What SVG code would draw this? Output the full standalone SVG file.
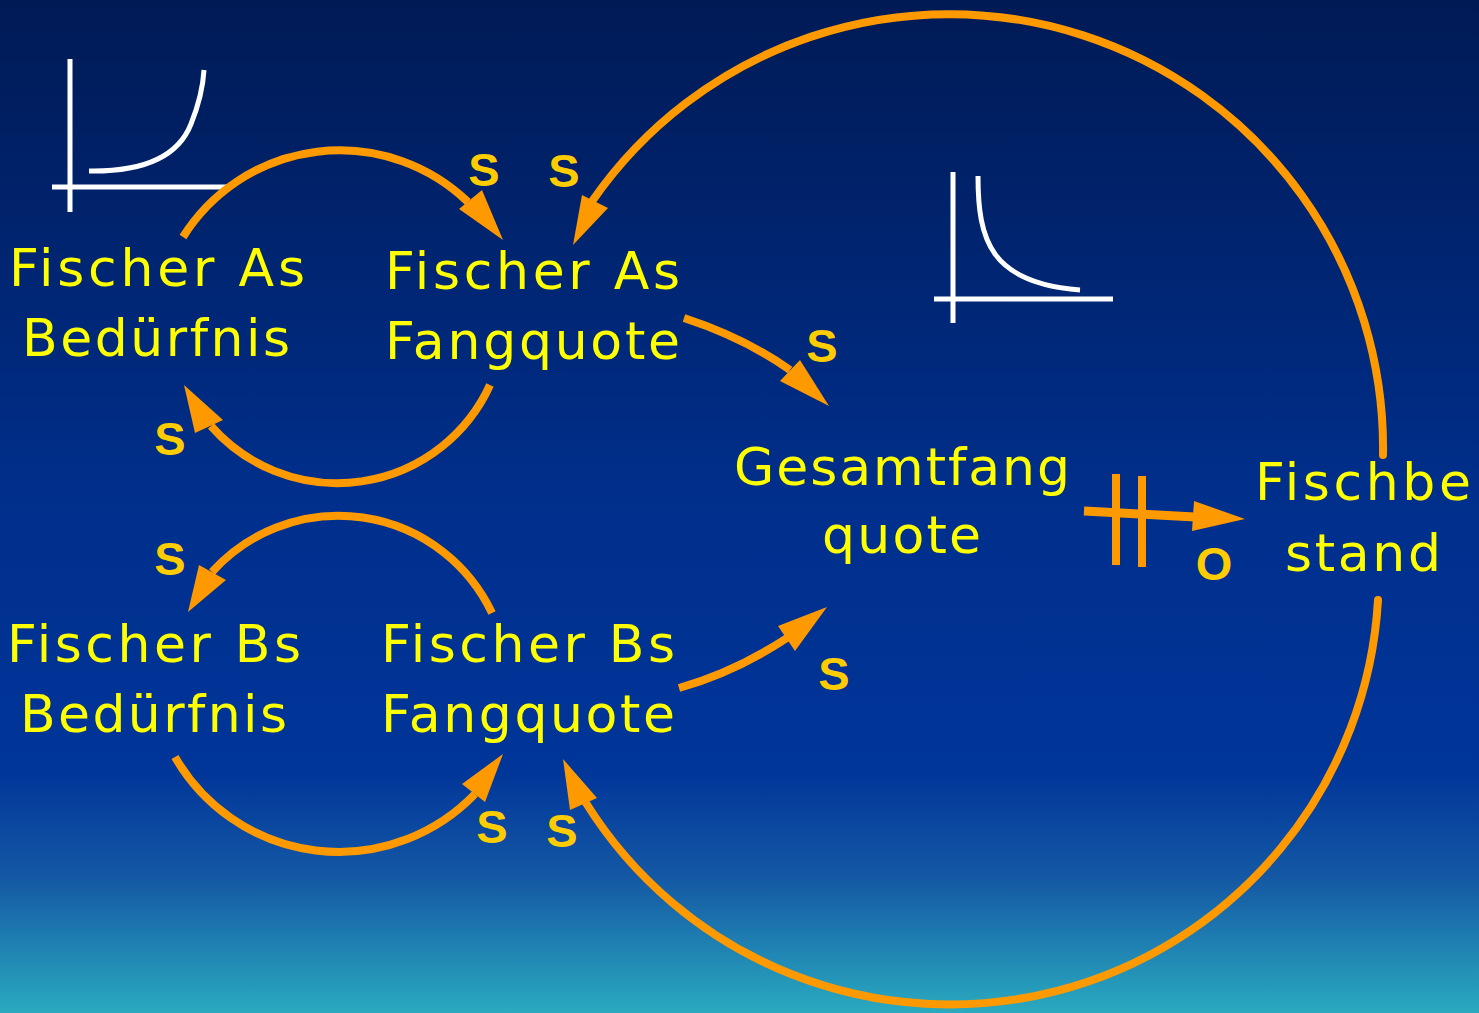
<svg xmlns="http://www.w3.org/2000/svg" width="1479" height="1013" viewBox="0 0 1479 1013">
<defs>
<linearGradient id="bg" x1="0" y1="0" x2="0" y2="1">
<stop offset="0" stop-color="#001a55"/>
<stop offset="0.5" stop-color="#002f8c"/>
<stop offset="0.76" stop-color="#003599"/>
<stop offset="0.87" stop-color="#155aa5"/>
<stop offset="1" stop-color="#2aaabf"/>
</linearGradient>
</defs>
<style>
.lbl{font-family:"DejaVu Sans",Verdana,sans-serif;font-size:52px;fill:#ffff00}
.pol{font-family:"Liberation Sans",Arial,sans-serif;font-size:47px;font-weight:bold;fill:#ffcc00;text-anchor:middle}
.arc{fill:none;stroke:#ff9900;stroke-width:8}
.big{stroke-linecap:round}
.head{fill:#ff9900}
.ax{stroke:#ffffff;stroke-width:5;fill:none}
</style>
<rect x="0" y="0" width="1479" height="1013" fill="url(#bg)"/>

<g id="graph-exp">
<path class="ax" d="M70,59 L70,212 M52,187 L230,187"/>
<path class="ax" d="M89,171 C150,172 180,152 191,124 C199,104 203,88 204,70"/>
</g>
<g id="graph-hyp">
<path class="ax" d="M953,172 L953,323 M934,299 L1113,299"/>
<path class="ax" d="M978,176 C978,240 990,283 1080,290"/>
</g>

<g id="connectors">
<path class="arc" d="M183,237 A185,185 0 0 1 468,202"/>
<polygon class="head" points="503,240 459,209 482,190"/>
<path class="arc" d="M490,385 A168,168 0 0 1 211,426"/>
<polygon class="head" points="184,385 195,433 223,420"/>
<path class="arc" d="M492,613 A170,170 0 0 0 212,572"/>
<polygon class="head" points="188,612 199,565 226,580"/>
<path class="arc" d="M175,757 A189,189 0 0 0 475,794"/>
<polygon class="head" points="503,754 462,784 485,802"/>
<path class="arc big" d="M1383,455 A434,434 0 0 0 593,200"/>
<polygon class="head" points="573,245 582,195 608,208"/>
<path class="arc big" d="M1378,600 A429,429 0 0 1 586,803"/>
<polygon class="head" points="563,759 570,810 597,798"/>
<path class="arc" d="M684,318 Q745,338 790,370"/>
<polygon class="head" points="829,406 780,381 800,360"/>
<path class="arc" d="M679,688 Q735,672 787,638"/>
<polygon class="head" points="827,607 778,626 795,651"/>
<path class="arc" style="stroke-width:9" d="M1084,511 L1195,517"/>
<polygon class="head" points="1245,519 1194,501 1192,531"/>
<rect class="head" x="1112" y="474" width="8" height="91"/>
<rect class="head" x="1138" y="476" width="8" height="91"/>
</g>

<g id="labels-polarity">
<text class="pol" x="484" y="186">S</text>
<text class="pol" x="564" y="187">S</text>
<text class="pol" x="822" y="362">S</text>
<text class="pol" x="170" y="455">S</text>
<text class="pol" x="170" y="575">S</text>
<text class="pol" x="834" y="690">S</text>
<text class="pol" x="492" y="843">S</text>
<text class="pol" x="562" y="847">S</text>
<text class="pol" x="1214" y="580">O</text>
</g>

<g id="node-a-beduerfnis">
<text class="lbl" x="9" y="286" textLength="296" lengthAdjust="spacing">Fischer As</text>
<text class="lbl" x="22" y="356" textLength="268" lengthAdjust="spacing">Bedürfnis</text>
</g>
<g id="node-a-fangquote">
<text class="lbl" x="385" y="289" textLength="295" lengthAdjust="spacing">Fischer As</text>
<text class="lbl" x="385" y="359" textLength="295" lengthAdjust="spacing">Fangquote</text>
</g>
<g id="node-b-beduerfnis">
<text class="lbl" x="7" y="662" textLength="294" lengthAdjust="spacing">Fischer Bs</text>
<text class="lbl" x="20" y="732" textLength="267" lengthAdjust="spacing">Bedürfnis</text>
</g>
<g id="node-b-fangquote">
<text class="lbl" x="381" y="662" textLength="294" lengthAdjust="spacing">Fischer Bs</text>
<text class="lbl" x="381" y="732" textLength="294" lengthAdjust="spacing">Fangquote</text>
</g>
<g id="node-gesamtfangquote">
<text class="lbl" x="734" y="485" textLength="336" lengthAdjust="spacing">Gesamtfang</text>
<text class="lbl" x="822" y="553" textLength="159" lengthAdjust="spacing">quote</text>
</g>
<g id="node-fischbestand">
<text class="lbl" x="1255" y="500" textLength="216" lengthAdjust="spacing">Fischbe</text>
<text class="lbl" x="1285" y="571" textLength="156" lengthAdjust="spacing">stand</text>
</g>
</svg>
